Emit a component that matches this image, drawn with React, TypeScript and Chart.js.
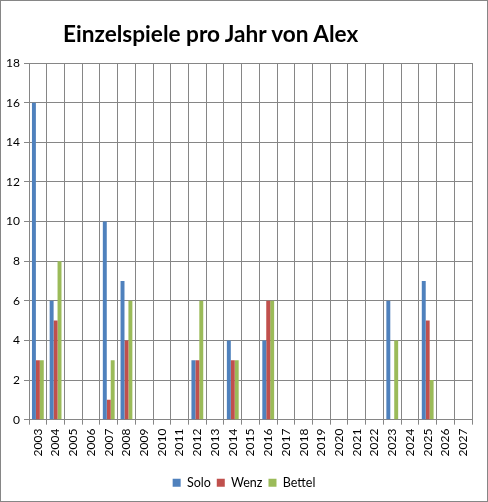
import React, { useEffect, useRef } from "react";
import { Chart, registerables } from "chart.js";

Chart.register(...registerables);

const TITLE = "Einzelspiele pro Jahr von Alex";
const years = [
  "2003", "2004", "2005", "2006", "2007", "2008", "2009", "2010", "2011", "2012",
  "2013", "2014", "2015", "2016", "2017", "2018", "2019", "2020", "2021", "2022",
  "2023", "2024", "2025", "2026", "2027",
];
const solo = [16, 6, 0, 0, 10, 7, 0, 0, 0, 3, 0, 4, 0, 4, 0, 0, 0, 0, 0, 0, 6, 0, 7, 0, 0];
const wenz = [3, 5, 0, 0, 1, 4, 0, 0, 0, 3, 0, 3, 0, 6, 0, 0, 0, 0, 0, 0, 0, 0, 5, 0, 0];
const bettel = [3, 8, 0, 0, 3, 6, 0, 0, 0, 6, 0, 3, 0, 6, 0, 0, 0, 0, 0, 0, 4, 0, 2, 0, 0];
const seriesNames = ["Solo", "Wenz", "Bettel"];
const seriesColors = ["#4F81BD", "#C0504D", "#9BBB59"];
const yMax = 18;
const yStep = 2;

const FONT = "Lato, 'Open Sans', sans-serif";
const GRID = "#868686";

export default function App() {
  const ref = useRef<HTMLCanvasElement | null>(null);

  useEffect(() => {
    document.body.style.margin = "0";
    const canvas = ref.current;
    if (!canvas) return;
    const chart = new Chart(canvas, {
      type: "bar",
      data: {
        labels: years,
        datasets: [solo, wenz, bettel].map((d, i) => ({
          label: seriesNames[i],
          data: d,
          backgroundColor: seriesColors[i],
          borderWidth: 0,
          categoryPercentage: 0.667,
          barPercentage: 1,
        })),
      },
      options: {
        animation: false,
        responsive: false,
        devicePixelRatio: 1,
        layout: { padding: { top: 62, right: 0, left: 0, bottom: 2 } },
        plugins: {
          title: { display: false },
          tooltip: { enabled: false },
          legend: {
            position: "bottom",
            labels: {
              boxWidth: 8,
              boxHeight: 8,
              padding: 6,
              color: "#000",
              font: { family: FONT, size: 12.5 },
            },
          },
        },
        scales: {
          x: {
            offset: true,
            afterFit: (scale: any) => {
              scale.height += 10;
            },
            grid: {
              offset: true,
              color: GRID,
              lineWidth: 1,
              tickLength: 5,
              drawTicks: true,
            },
            border: { color: GRID, width: 1 },
            ticks: {
              minRotation: 90,
              maxRotation: 90,
              autoSkip: false,
              padding: 4,
              color: "#000",
              font: { family: FONT, size: 12 },
            },
          },
          y: {
            min: 0,
            max: yMax,
            afterFit: (scale: any) => {
              scale.width = 28;
            },
            grid: { color: GRID, lineWidth: 1, tickLength: 5 },
            border: { color: GRID, width: 1 },
            ticks: {
              stepSize: yStep,
              padding: 4,
              color: "#000",
              font: { family: FONT, size: 12 },
            },
          },
          yRight: {
            type: "linear",
            position: "right",
            min: 0,
            max: yMax,
            afterFit: (scale: any) => {
              scale.width = 15;
            },
            grid: { display: false, drawOnChartArea: false },
            border: { display: false },
            ticks: { display: false },
          },
        },
      },
    });
    return () => chart.destroy();
  }, []);

  return (
    <div
      style={{
        position: "relative",
        width: 488,
        height: 502,
        border: "1px solid #868686",
        boxSizing: "border-box",
        background: "#fff",
      }}
    >
      <div
        style={{
          position: "absolute",
          left: 62,
          top: 19,
          fontFamily: FONT,
          fontWeight: 700,
          fontSize: 22.6,
          color: "#000",
          whiteSpace: "nowrap",
        }}
      >
        {TITLE}
      </div>
      <canvas ref={ref} width={486} height={500} style={{ display: "block" }} />
    </div>
  );
}
